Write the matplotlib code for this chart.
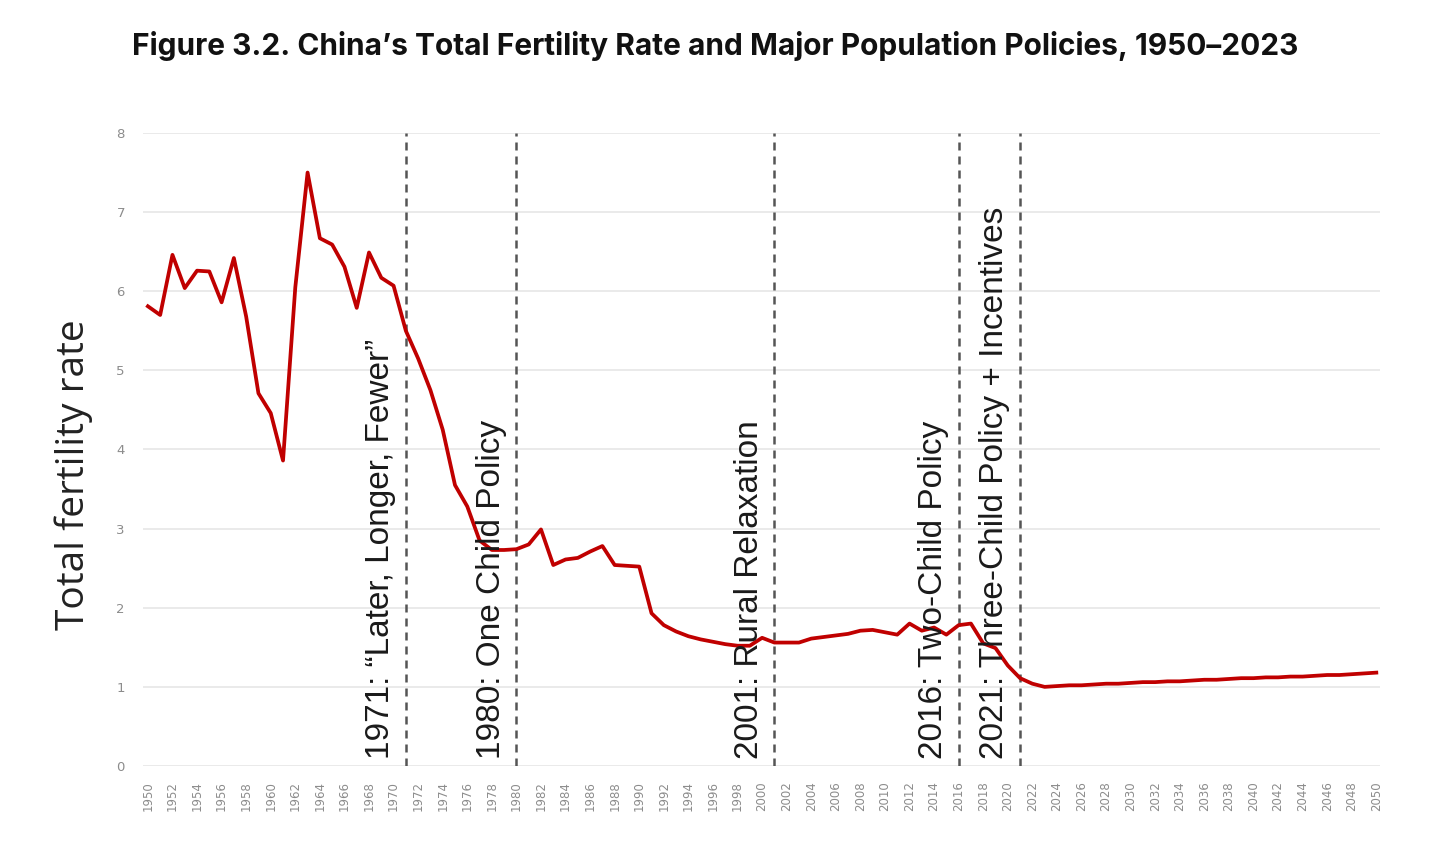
import matplotlib
matplotlib.use("Agg")
import matplotlib.pyplot as plt

# data
years = list(range(1950, 2051))
tfr = [
    5.81, 5.70, 6.46, 6.04, 6.26, 6.25, 5.86, 6.42, 5.68, 4.71,   # 1950s
    4.46, 3.86, 6.05, 7.50, 6.67, 6.59, 6.31, 5.79, 6.49, 6.17,   # 1960s
    6.07, 5.50, 5.15, 4.75, 4.25, 3.55, 3.28, 2.85, 2.73, 2.73,   # 1970s
    2.74, 2.80, 2.99, 2.54, 2.61, 2.63, 2.71, 2.78, 2.54, 2.53,   # 1980s
    2.52, 1.93, 1.78, 1.70, 1.64, 1.60, 1.57, 1.54, 1.52, 1.52,   # 1990s
    1.62, 1.56, 1.56, 1.56, 1.61, 1.63, 1.65, 1.67, 1.71, 1.72,   # 2000s
    1.69, 1.66, 1.80, 1.71, 1.75, 1.66, 1.78, 1.80, 1.55, 1.49,   # 2010s
    1.27, 1.11, 1.04, 1.00, 1.01, 1.02, 1.02, 1.03, 1.04, 1.04,   # 2020s
    1.05, 1.06, 1.06, 1.07, 1.07, 1.08, 1.09, 1.09, 1.10, 1.11,   # 2030s
    1.11, 1.12, 1.12, 1.13, 1.13, 1.14, 1.15, 1.15, 1.16, 1.17,   # 2040s
    1.18,
]

policy_years = [1971, 1980, 2001, 2016, 2021]
policy_labels = [
    "1971: \u201cLater, Longer, Fewer\u201d",
    "1980: One Child Policy",
    "2001: Rural Relaxation",
    "2016: Two-Child Policy",
    "2021: Three-Child Policy + Incentives",
]

title = "Figure 3.2. China\u2019s Total Fertility Rate and Major Population Policies, 1950\u20132023"

fig = plt.figure(figsize=(14.56, 8.67), dpi=100)
ax = fig.add_axes([0.0982, 0.1165, 0.8496, 0.7301])

ax.plot(years, tfr, color="#c00000", linewidth=2.7, zorder=3)

for yr, label in zip(policy_years, policy_labels):
    ax.axvline(yr, color="#555555", linestyle=(0, (3.2, 2.4)), linewidth=1.8, zorder=2)
    ax.annotate(label, xy=(yr, 0), xytext=(-7, 5), textcoords="offset points",
                rotation=90, ha="right", va="bottom", fontsize=24,
                family="Liberation Sans", color="#1a1a1a", zorder=4)

ax.set_xlim(1949.6, 2050.3)
ax.set_ylim(0, 8)
ax.set_yticks(range(0, 9))
ax.set_xticks(range(1950, 2051, 2))
ax.tick_params(axis="x", labelrotation=90, labelsize=8.5, colors="#8c8c8c", length=0, pad=11)
ax.tick_params(axis="y", labelsize=9.5, colors="#8c8c8c", length=0, pad=13)
ax.grid(axis="y", color="#e6e6e6", linewidth=1.2)
ax.set_axisbelow(True)
for s in ax.spines.values():
    s.set_visible(False)

ax.set_ylabel("Total fertility rate", fontsize=28, family="Open Sans", color="#222222")
ax.yaxis.set_label_coords(-0.040, 0.46)

fig.text(0.4914, 0.947, title, ha="center", va="center", fontsize=21.5,
         family="Inter", fontweight="bold", color="#111111")

fig.savefig("out.png", dpi=100, facecolor="white")
